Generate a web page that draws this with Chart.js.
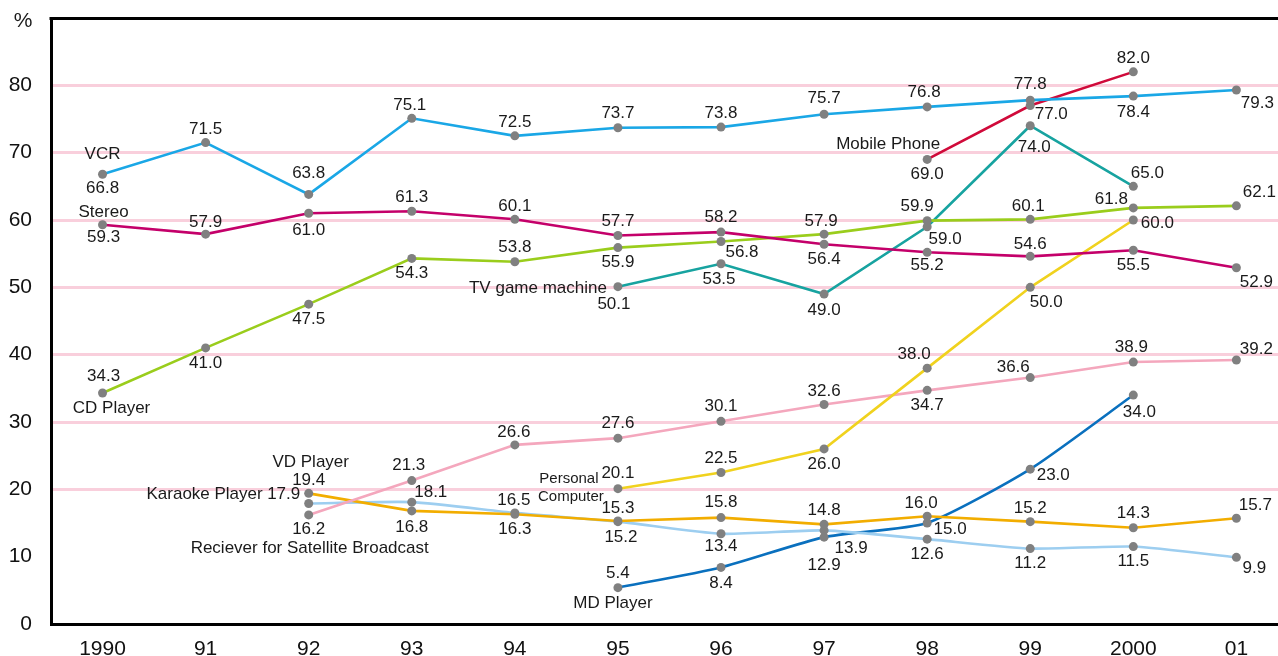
<!DOCTYPE html>
<html>
<head>
<meta charset="utf-8">
<script src="https://cdn.jsdelivr.net/npm/chart.js@4"></script>
<style>
  html, body { margin: 0; padding: 0; background: #fff; overflow: hidden; }
  canvas { display: block; }
</style>
</head>
<body>
<canvas id="chart" width="1278" height="656"></canvas>
<script>
// Years on the x axis
const years = ['1990', '91', '92', '93', '94', '95', '96', '97', '98', '99', '2000', '01'];

// Ownership rates (%), null = not surveyed
const vcr       = [66.8, 71.5, 63.8, 75.1, 72.5, 73.7, 73.8, 75.7, 76.8, 77.8, 78.4, 79.3];
const stereo    = [59.3, 57.9, 61.0, 61.3, 60.1, 57.7, 58.2, 56.4, 55.2, 54.6, 55.5, 52.9];
const cdPlayer  = [34.3, 41.0, 47.5, 54.3, 53.8, 55.9, 56.8, 57.9, 59.9, 60.1, 61.8, 62.1];
const tvGame    = [null, null, null, null, null, 50.1, 53.5, 49.0, 59.0, 74.0, 65.0, null];
const mobile    = [null, null, null, null, null, null, null, null, 69.0, 77.0, 82.0, null];
const pc        = [null, null, null, null, null, 20.1, 22.5, 26.0, 38.0, 50.0, 60.0, null];
const vdPlayer  = [null, null, 16.2, 21.3, 26.6, 27.6, 30.1, 32.6, 34.7, 36.6, 38.9, 39.2];
const karaoke   = [null, null, 19.4, 16.8, 16.3, 15.3, 15.8, 14.8, 16.0, 15.2, 14.3, 15.7];
const satellite = [null, null, 17.9, 18.1, 16.5, 15.2, 13.4, 13.9, 12.6, 11.2, 11.5, 9.9];
const mdPlayer  = [null, null, null, null, null, 5.4, 8.4, 12.9, 15.0, 23.0, 34.0, null];

// where each value label sits relative to its point [dx, dy]
const U = [0, -14], D = [0, 15];
const vcrPos    = [[0, 14], [0, -13], [0, -21], [-2, -13], U, U, U, [0, -16], [-3, -15], [0, -16], [0, 16], [21, 13]];
const stereoPos = [[1, 13], [0, -12], [0, 17], U, [0, -13], U, [0, -15], D, [0, 13], [0, -12], D, [20, 15]];
const cdPos     = [[1, -17], D, D, D, U, D, [21, 11], [-3, -13], [-10, -14], [-2, -13], [-22, -9], [23, -14]];
const tvPos     = [null, null, null, null, null, [-4, 18], [-2, 16], [0, 16], [18, 13], [4, 22], [14, -13], null];
const mobilePos = [null, null, null, null, null, null, null, null, D, [21, 9], U, null];
const pcPos     = [null, null, null, null, null, [0, -15], U, D, [-13, -14], [16, 15], [24, 3], null];
const vdPos     = [null, null, [0, 14], [-3, -15], [-1, -13], [0, -15], [0, -15], [0, -13], D, [-17, -10], [-2, -15], [20, -11]];
const karaokePos = [null, null, [0, -13], [0, 16], D, [0, -13], [0, -15], U, [-6, -13], [0, -13], U, [19, -13]];
const satPos    = [null, null, [-25, -9], [19, -10], [-1, -13], [3, 16], [0, 13], [27, 18], D, D, D, [18, 11]];
const mdPos     = [null, null, null, null, null, U, [0, 16], [0, 28], [23, 6], [23, 6], [6, 17], null];

const series = [
    { name: 'VCR', values: vcr, pos: vcrPos, color: '#1AA7E6' },
    { name: 'Stereo', values: stereo, pos: stereoPos, color: '#C4006A' },
    { name: 'CD Player', values: cdPlayer, pos: cdPos, color: '#9ACD1C' },
    { name: 'TV game machine', values: tvGame, pos: tvPos, color: '#17A3A0' },
    { name: 'Mobile Phone', values: mobile, pos: mobilePos, color: '#D00A3A' },
    { name: 'Personal Computer', values: pc, pos: pcPos, color: '#F0D21E' },
    { name: 'VD Player', values: vdPlayer, pos: vdPos, color: '#F4A7BD' },
    { name: 'Karaoke Player', values: karaoke, pos: karaokePos, color: '#F2AD00' },
    { name: 'Reciever for Satellite Broadcast', values: satellite, pos: satPos, color: '#9DCEF0', tension: 0.2 },
    { name: 'MD Player', values: mdPlayer, pos: mdPos, color: '#0A70BE', tension: 0.2 }
];

// series name captions: dataset, point index, offset, alignment
const captions = [
    { text: 'VCR', ds: 0, i: 0, dx: 0, dy: -20 },
    { text: 'Stereo', ds: 1, i: 0, dx: 1, dy: -12 },
    { text: 'CD Player', ds: 2, i: 0, dx: 9, dy: 15 },
    { text: 'TV game machine', ds: 3, i: 5, dx: -11, dy: 2, align: 'right' },
    { text: 'Mobile Phone', ds: 4, i: 8, dx: -39, dy: -15 },
    { text: 'Personal', ds: 5, i: 5, dx: -49, dy: -10, small: true },
    { text: 'Computer', ds: 5, i: 5, dx: -47, dy: 8, small: true },
    { text: 'VD Player', ds: 6, i: 2, dx: 2, dy: -53 },
    { text: 'Karaoke Player', ds: 7, i: 2, dx: -46, dy: 1, align: 'right' },
    { text: 'Reciever for Satellite Broadcast', ds: 8, i: 2, dx: 1, dy: 45 },
    { text: 'MD Player', ds: 9, i: 5, dx: -5, dy: 16 }
];

const FONT = '"Liberation Sans", Arial, sans-serif';
const GRID = '#F9CFDC';

// same pixel snapping Chart.js uses for 3px lines
const snap = p => Math.round(p - 1.5) + 1.5;

const labelPlugin = {
    id: 'labels',
    beforeDatasetsDraw(chart) {
        // carry the grid lines on to the right edge of the canvas
        const ctx = chart.ctx;
        const area = chart.chartArea;
        const y = chart.scales.y;
        ctx.save();
        ctx.strokeStyle = GRID;
        ctx.lineWidth = 3;
        y.ticks.forEach(t => {
            if (t.value < 20 || t.value > 80) return;
            const py = snap(y.getPixelForValue(t.value));
            ctx.beginPath();
            ctx.moveTo(area.right - 1, py);
            ctx.lineTo(chart.width, py);
            ctx.stroke();
        });
        ctx.restore();
    },
    afterDatasetsDraw(chart) {
        const ctx = chart.ctx;
        const area = chart.chartArea;
        const bottom = snap(chart.scales.x.top);
        ctx.save();
        // top frame line and bottom axis to the edge
        ctx.strokeStyle = '#000';
        ctx.lineWidth = 3;
        ctx.beginPath();
        ctx.moveTo(area.left - 1.5, snap(area.top));
        ctx.lineTo(chart.width, snap(area.top));
        ctx.moveTo(area.right - 2, bottom);
        ctx.lineTo(chart.width, bottom);
        ctx.stroke();

        ctx.fillStyle = '#1a1a1a';
        ctx.textAlign = 'center';
        ctx.textBaseline = 'middle';
        ctx.font = '17px ' + FONT;
        series.forEach((s, d) => {
            const meta = chart.getDatasetMeta(d);
            meta.data.forEach((pt, k) => {
                const idx = meta._parsed[k].x;
                const off = s.pos[idx];
                if (!off || s.values[idx] == null) return;
                ctx.fillText(s.values[idx].toFixed(1), pt.x + off[0], pt.y + off[1]);
            });
        });

        captions.forEach(c => {
            const meta = chart.getDatasetMeta(c.ds);
            const pt = meta.data.find((p, k) => meta._parsed[k].x === c.i);
            if (!pt) return;
            ctx.font = (c.small ? '15px ' : '17px ') + FONT;
            ctx.textAlign = c.align || 'center';
            ctx.fillText(c.text, pt.x + c.dx, pt.y + c.dy);
        });

        // unit mark over the y axis
        ctx.font = '21px ' + FONT;
        ctx.textAlign = 'center';
        ctx.fillText('%', area.left - 28, area.top + 3);
        ctx.restore();
    }
};

const datasets = series.map(s => ({
    label: s.name,
    data: s.values.map((v, i) => ({ x: i, y: v })).filter(p => p.y !== null),
    borderColor: s.color,
    borderWidth: 2.6,
    tension: s.tension || 0,
    pointRadius: 4.5,
    pointHoverRadius: 4.5,
    pointBackgroundColor: '#808080',
    pointBorderWidth: 0
}));

new Chart(document.getElementById('chart'), {
    type: 'line',
    data: { datasets: datasets },
    plugins: [labelPlugin],
    options: {
        responsive: false,
        animation: false,
        layout: { padding: { top: 18, right: 0, left: 0, bottom: 0 } },
        plugins: { legend: { display: false }, tooltip: { enabled: false } },
        scales: {
            x: {
                type: 'linear',
                min: -0.5,
                max: 11.36,
                afterBuildTicks: scale => {
                    scale.ticks = years.map((_, i) => ({ value: i }));
                },
                afterFit: scale => {
                    scale.height = 32;
                    scale.paddingLeft = 0;
                    scale.paddingRight = 0;
                },
                ticks: {
                    callback: v => years[v],
                    autoSkip: false,
                    maxRotation: 0,
                    padding: 5,
                    color: '#111',
                    font: { family: FONT, size: 21 }
                },
                grid: { display: false },
                border: { display: true, color: '#000', width: 3 }
            },
            y: {
                min: 0,
                max: 90,
                afterFit: scale => {
                    scale.width = 51;
                    scale.paddingTop = 0;
                    scale.paddingBottom = 0;
                },
                ticks: {
                    stepSize: 10,
                    callback: v => (v === 90 ? '' : v),
                    padding: 19,
                    color: '#111',
                    font: { family: FONT, size: 21 }
                },
                grid: {
                    drawTicks: false,
                    lineWidth: 3,
                    color: c => (c.tick && c.tick.value >= 20 && c.tick.value <= 80 ? GRID : 'rgba(0,0,0,0)')
                },
                border: { display: true, color: '#000', width: 3 }
            }
        }
    }
});
</script>
</body>
</html>
